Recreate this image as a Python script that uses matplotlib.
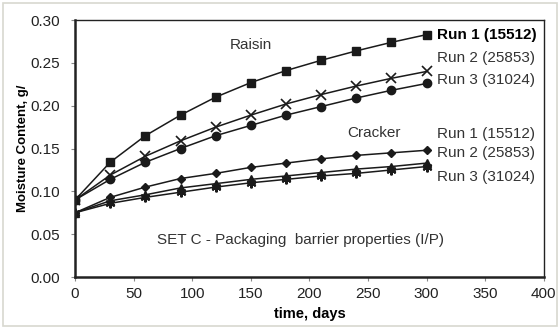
import matplotlib
matplotlib.use("Agg")
import matplotlib.pyplot as plt
from matplotlib.patches import Rectangle

plt.rcParams['font.family'] = ['Liberation Sans', 'DejaVu Sans']

days = [0, 30, 60, 90, 120, 150, 180, 210, 240, 270, 300]

raisin_run1 = [0.090, 0.134, 0.165, 0.189, 0.210, 0.227, 0.241, 0.253, 0.264, 0.274, 0.283]
raisin_run2 = [0.090, 0.119, 0.141, 0.159, 0.175, 0.189, 0.202, 0.213, 0.223, 0.232, 0.240]
raisin_run3 = [0.090, 0.114, 0.134, 0.150, 0.165, 0.177, 0.189, 0.199, 0.209, 0.218, 0.226]

cracker_run1 = [0.075, 0.093, 0.105, 0.115, 0.121, 0.128, 0.133, 0.138, 0.142, 0.145, 0.148]
cracker_run2 = [0.075, 0.089, 0.096, 0.104, 0.109, 0.114, 0.118, 0.122, 0.126, 0.129, 0.133]
cracker_run3 = [0.075, 0.086, 0.093, 0.099, 0.105, 0.110, 0.114, 0.118, 0.121, 0.125, 0.129]

run_labels = ["Run 1 (15512)", "Run 2 (25853)", "Run 3 (31024)"]

fig = plt.figure(figsize=(5.6, 3.29), dpi=100)
fig.patches.append(Rectangle((0.005, 0.01), 0.99, 0.98, transform=fig.transFigure,
                             fill=False, edgecolor='#d8d8d0', lw=1.2))
ax = fig.add_axes([0.134, 0.158, 0.837, 0.781])

lc = '#1a1a1a'
ax.plot(days, raisin_run1, color=lc, lw=1.1, marker='s', ms=6)
ax.plot(days, raisin_run2, color=lc, lw=1.1, marker='x', ms=7, mew=1.2)
ax.plot(days, raisin_run3, color=lc, lw=1.1, marker='o', ms=6)
ax.plot(days, cracker_run1, color=lc, lw=1.1, marker='D', ms=4.5)
ax.plot(days, cracker_run2, color=lc, lw=1.1, marker='^', ms=6)
ax.plot(days, cracker_run3, color=lc, lw=1.1, marker=(6, 2, 0), ms=7, mew=1.5)

ax.set_xlim(0, 400)
ax.set_ylim(0, 0.30)
ax.set_xticks([0, 50, 100, 150, 200, 250, 300, 350, 400])
ax.set_xticklabels(['0', '50', '100', '150', '200', '250', '300', '350', '400'])
ax.set_yticks([0.0, 0.05, 0.10, 0.15, 0.20, 0.25, 0.30])
ax.set_yticklabels(['0.00', '0.05', '0.10', '0.15', '0.20', '0.25', '0.30'])
ax.tick_params(axis='both', labelsize=11, length=3, direction='out', color='#888888',
               labelcolor='#222222')
ax.tick_params(axis='x', pad=4)
ax.tick_params(axis='y', pad=8)
for s in ax.spines.values():
    s.set_color('#222222')
    s.set_linewidth(1.0)
ax.spines['left'].set_linewidth(1.8)
ax.spines['bottom'].set_linewidth(1.8)

ax.set_xlabel('time, days', fontsize=10.5, fontweight='bold')
ax.xaxis.set_label_coords(0.5, -0.142)
ax.xaxis.label.set_va('center')
ax.set_ylabel('Moisture Content, g/', fontsize=9.5, fontweight='bold')
ax.yaxis.set_label_coords(-0.112, 0.5)
ax.yaxis.label.set_va('center')

tc = '#333333'
ax.text(132, 0.271, 'Raisin', fontsize=11, color=tc, va='center')
ax.text(232, 0.168, 'Cracker', fontsize=11, color=tc, va='center')
ax.text(309, 0.283, run_labels[0], fontsize=11, color='black', fontweight='bold', va='center')
ax.text(309, 0.256, run_labels[1], fontsize=11, color=tc, va='center')
ax.text(309, 0.2295, run_labels[2], fontsize=11, color=tc, va='center')
ax.text(309, 0.167, run_labels[0], fontsize=11, color=tc, va='center')
ax.text(309, 0.1445, run_labels[1], fontsize=11, color=tc, va='center')
ax.text(309, 0.117, run_labels[2], fontsize=11, color=tc, va='center')
ax.text(70, 0.043, 'SET C - Packaging  barrier properties (I/P)', fontsize=11, color=tc, va='center')

fig.savefig('out.png', dpi=100)
